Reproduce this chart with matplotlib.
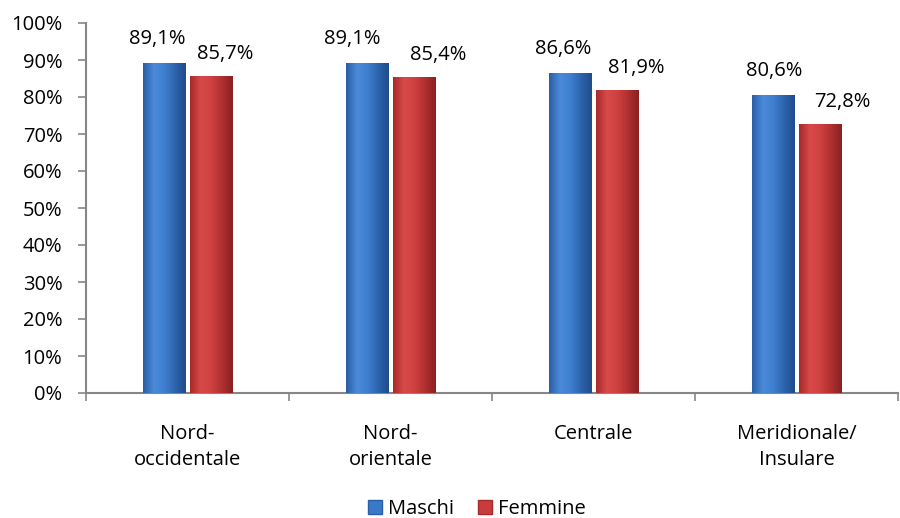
import matplotlib
matplotlib.use("Agg")
import matplotlib.pyplot as plt
import numpy as np
from matplotlib.colors import LinearSegmentedColormap
from matplotlib.patches import Patch

categories = ["Nord-\noccidentale", "Nord-\norientale", "Centrale", "Meridionale/\nInsulare"]
maschi = [89.1, 89.1, 86.6, 80.6]
femmine = [85.7, 85.4, 81.9, 72.8]
series_names = ["Maschi", "Femmine"]
yticks = [0, 10, 20, 30, 40, 50, 60, 70, 80, 90, 100]

# label horizontal nudges (pixels), style only
blue_dx = [-7, -15, -7, 1]
red_dx = [14, 24, 19, 22]

plt.rcParams['font.family'] = ['Open Sans', 'DejaVu Sans']
FS = 14.5

W, H = 900, 518
fig = plt.figure(figsize=(W/100, H/100), dpi=100)
ax_left, ax_right, ax_top, ax_bot = 86, 898, 23, 393
ax = fig.add_axes([ax_left/W, 1-ax_bot/H, (ax_right-ax_left)/W, (ax_bot-ax_top)/H])

unit = 206.3
ax.set_xlim(-0.5, -0.5 + (ax_right-ax_left)/unit)
ax.set_ylim(0, 100)

x = np.arange(len(categories))
off = 24/unit
bw = 43/unit

blue_cm = LinearSegmentedColormap.from_list("b", ["#2a5fa6", "#4a8ad8", "#3f7fd0", "#2d64ad", "#1f4c8c"])
red_cm = LinearSegmentedColormap.from_list("r", ["#a82a2a", "#d84a4a", "#cf4040", "#b03030", "#8a2020"])
grad = np.linspace(0, 1, 64).reshape(1, -1)

def draw(xs, vals, color, cm):
    bars = ax.bar(xs, vals, width=bw, color=color, edgecolor="none", zorder=2)
    for b in bars:
        x0, w, h = b.get_x(), b.get_width(), b.get_height()
        im = ax.imshow(grad, extent=[x0, x0+w, 0, h], aspect='auto', cmap=cm, zorder=3)
        im.set_clip_path(b)
    return bars

draw(x - off, maschi, "#3a78c8", blue_cm)
draw(x + off, femmine, "#c83c3c", red_cm)

px = 72/100
fmt = lambda v: f"{v:.1f}%".replace(".", ",")
for xi, v, dx in zip(x - off, maschi, blue_dx):
    ax.annotate(fmt(v), (xi, v), xytext=(dx*px, 19*px), textcoords="offset points",
                ha="center", va="baseline", fontsize=FS, zorder=5)
for xi, v, dx in zip(x + off, femmine, red_dx):
    ax.annotate(fmt(v), (xi, v), xytext=(dx*px, 17*px), textcoords="offset points",
                ha="center", va="baseline", fontsize=FS, zorder=5)

ax.set_yticks(yticks)
ax.set_yticklabels([f"{t}%" for t in yticks], fontsize=FS)
ax.set_xticks(x)
ax.set_xticklabels(categories, fontsize=FS, linespacing=1.45)
ax.set_xticks(np.arange(len(categories)+1) - 0.5, minor=True)
ax.tick_params(axis='x', which='major', length=0, pad=22)
ax.tick_params(axis='x', which='minor', length=6, color="#868686", width=1.2)
ax.tick_params(axis='y', length=6, color="#868686", width=1.2, pad=11)

for s in ["top", "right"]:
    ax.spines[s].set_visible(False)
for s in ["left", "bottom"]:
    ax.spines[s].set_color("#868686")
    ax.spines[s].set_linewidth(1.5)

handles = [Patch(facecolor="#3a78c8", edgecolor="#2a5fa6"), Patch(facecolor="#c83c3c", edgecolor="#a82a2a")]
fig.legend(handles, series_names, loc="center", bbox_to_anchor=(0.53, 1-509/H), ncol=2,
           frameon=False, fontsize=FS, handlelength=0.7, handleheight=0.7,
           handletextpad=0.3, columnspacing=1.2)

fig.savefig("out.png", dpi=100)
